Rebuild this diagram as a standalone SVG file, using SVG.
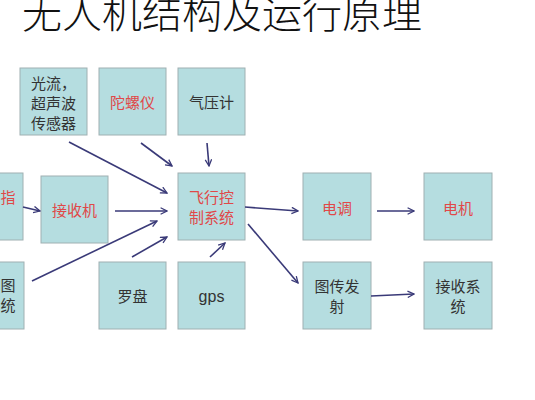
<svg xmlns="http://www.w3.org/2000/svg" width="535" height="400" viewBox="0 0 535 400">
<style>
.box{fill:#b5dde0;stroke:#9fb0b2;stroke-width:1}
.t{font-family:"Noto Sans CJK SC","Noto Sans",sans-serif;font-size:15px;text-anchor:middle}
.r{fill:#e04848}
.d{fill:#333}
.c line{stroke:#3a3a78;stroke-width:1.6;marker-end:url(#ah)}
</style>
<defs>
<marker id="ah" viewBox="0 0 10 10" refX="9" refY="5" markerWidth="8" markerHeight="8" markerUnits="userSpaceOnUse" orient="auto">
<path d="M1,1 L9,5 L1,9" fill="none" stroke="#3a3a78" stroke-width="1.6"/>
</marker>
</defs>
<rect width="535" height="400" fill="#fff"/>
<text x="22" y="28" font-family="Noto Sans CJK SC,sans-serif" font-size="40" fill="#111" font-weight="300">无人机结构及运行原理</text>
<g id="n-guangliu"><rect class="box" x="20" y="68" width="67" height="67"/><text class="t d" x="53.5" y="89">光流，</text><text class="t d" x="53.5" y="109">超声波</text><text class="t d" x="53.5" y="129">传感器</text></g>
<g id="n-tuoluoyi"><rect class="box" x="99" y="68" width="67" height="67"/><text class="t r" x="132.5" y="108">陀螺仪</text></g>
<g id="n-qiyaji"><rect class="box" x="178" y="68" width="67" height="67"/><text class="t d" x="211.5" y="108">气压计</text></g>
<g id="n-zhi"><rect class="box" x="-45" y="173" width="68" height="67"/><text class="t r" x="8" y="203">指</text></g>
<g id="n-jieshouji"><rect class="box" x="41" y="176" width="67" height="67"/><text class="t r" x="74.5" y="216">接收机</text></g>
<g id="n-feikong"><rect class="box" x="178" y="173" width="67" height="67"/><text class="t r" x="211.5" y="203">飞行控</text><text class="t r" x="211.5" y="223">制系统</text></g>
<g id="n-tutong"><rect class="box" x="-45" y="262" width="69" height="67"/><text class="t d" x="8" y="291">图</text><text class="t d" x="8" y="311">统</text></g>
<g id="n-luopan"><rect class="box" x="99" y="262" width="67" height="67"/><text class="t d" x="132.5" y="302">罗盘</text></g>
<g id="n-gps"><rect class="box" x="178" y="262" width="67" height="67"/><text class="t d" x="211.5" y="302" style="font-family:'Liberation Sans',sans-serif;font-size:16px">gps</text></g>
<g id="n-diantiao"><rect class="box" x="303" y="173" width="68" height="67"/><text class="t r" x="337" y="214">电调</text></g>
<g id="n-dianji"><rect class="box" x="424" y="173" width="68" height="67"/><text class="t r" x="458" y="214">电机</text></g>
<g id="n-tuchuan"><rect class="box" x="303" y="262" width="68" height="67"/><text class="t d" x="337" y="292">图传发</text><text class="t d" x="337" y="312">射</text></g>
<g id="n-jieshouxitong"><rect class="box" x="424" y="262" width="68" height="67"/><text class="t d" x="458" y="292">接收系</text><text class="t d" x="458" y="312">统</text></g>
<g id="connectors" class="c">
<line x1="69" y1="142" x2="167" y2="193"/>
<line x1="141" y1="143" x2="172" y2="166"/>
<line x1="207" y1="143" x2="209" y2="166"/>
<line x1="23" y1="207" x2="40" y2="211"/>
<line x1="115" y1="211" x2="167" y2="211"/>
<line x1="32" y1="281" x2="157" y2="221"/>
<line x1="132" y1="257" x2="167" y2="237"/>
<line x1="210" y1="257" x2="225" y2="243"/>
<line x1="245" y1="207" x2="298" y2="211"/>
<line x1="248" y1="224" x2="298" y2="283"/>
<line x1="377" y1="211" x2="414" y2="211"/>
<line x1="371" y1="296" x2="414" y2="294"/>
</g>
</svg>
